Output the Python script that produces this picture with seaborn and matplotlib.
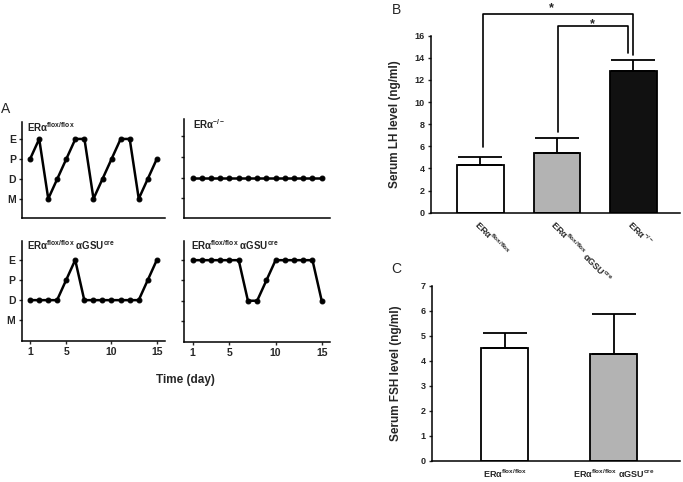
import matplotlib
matplotlib.use('Agg')
import matplotlib.pyplot as plt
import pandas as pd
import seaborn as sns

# estrous cycle stage per day (panel A)
days = [1, 2, 3, 4, 5, 6, 7, 8, 9, 10, 11, 12, 13, 14, 15]
stage_names = ['M', 'D', 'P', 'E']
cycle_flox = ['P', 'E', 'M', 'D', 'P', 'E', 'E', 'M', 'D', 'P', 'E', 'E', 'M', 'D', 'P']
cycle_ko = ['D', 'D', 'D', 'D', 'D', 'D', 'D', 'D', 'D', 'D', 'D', 'D', 'D', 'D', 'D']
cycle_cre_1 = ['D', 'D', 'D', 'D', 'P', 'E', 'D', 'D', 'D', 'D', 'D', 'D', 'D', 'P', 'E']
cycle_cre_2 = ['E', 'E', 'E', 'E', 'E', 'E', 'D', 'D', 'P', 'E', 'E', 'E', 'E', 'E', 'D']
titles_a = ['ERα$^{flox/flox}$', 'ERα$^{-/-}$',
            'ERα$^{flox/flox}$ αGSU$^{cre}$', 'ERα$^{flox/flox}$ αGSU$^{cre}$']

# serum LH (panel B)
lh_groups = ['ERα$^{flox/flox}$', 'ERα$^{flox/flox}$ αGSU$^{cre}$', 'ERα$^{-/-}$']
lh_mean = [4.3, 5.36, 12.83]
lh_err = [0.7, 1.42, 0.97]

# serum FSH (panel C)
fsh_groups = ['ERα$^{flox/flox}$', 'ERα$^{flox/flox}$ αGSU$^{cre}$']
fsh_mean = [4.53, 4.26]
fsh_err = [0.6, 1.6]

bar_colors = ['white', '#b3b3b3', '#111111']

sns.set_style('ticks')
plt.rcParams['font.family'] = ['Liberation Sans', 'DejaVu Sans']
plt.rcParams['font.weight'] = 'bold'
plt.rcParams['axes.labelweight'] = 'bold'
plt.rcParams['mathtext.fontset'] = 'custom'
plt.rcParams['mathtext.default'] = 'regular'
plt.rcParams['axes.linewidth'] = 1.1
plt.rcParams['axes.edgecolor'] = 'black'

fig = plt.figure(figsize=(6.83, 4.82), dpi=100)

# ---- panel A ----
W, H = 683, 482
boxes = [(22, 122, 165, 217.7), (184.3, 119, 330, 217.7),
         (21.7, 240.7, 165, 340.7), (184.3, 240.7, 330, 341.7)]
cycles = [cycle_flox, cycle_ko, cycle_cre_1, cycle_cre_2]
title_x = [0.035, 0.058, 0.035, 0.044]
stage_val = {'M': 1, 'D': 2, 'P': 3, 'E': 4}

for i in range(4):
    x0, y0, x1, y1 = boxes[i]
    ax = fig.add_axes([x0 / W, 1 - y1 / H, (x1 - x0) / W, (y1 - y0) / H])
    df = pd.DataFrame({'day': days, 'stage': [stage_val[s] for s in cycles[i]]})
    sns.lineplot(data=df, x='day', y='stage', color='black', linewidth=1.8,
                 marker='o', markersize=3.5, markeredgecolor='black', ax=ax)
    sns.despine(ax=ax)
    ax.set_xlim(0.1, 15.9)
    if i < 2:
        ax.set_ylim(0.05, 4.85)
        ax.set_xticks([])
    else:
        ax.set_ylim(-0.02, 4.96)
        ax.set_xticks([1, 5, 10, 15])
    ax.set_yticks([1, 2, 3, 4])
    if i % 2 == 0:
        ax.set_yticklabels(stage_names)
    else:
        ax.set_yticklabels([])
    ax.tick_params(length=2.5, width=1, labelsize=7.5, pad=2)
    ax.set_xlabel('')
    ax.set_ylabel('')
    ax.text(title_x[i], 1.02, titles_a[i], transform=ax.transAxes,
            va='top', ha='left', fontsize=7, color='#222222')

fig.text(185 / W, 1 - 380 / H, 'Time (day)', ha='center', va='center', fontsize=8.5)
fig.text(0.002, 1 - 101.7 / H, 'A', ha='left', va='top', fontsize=10, weight='normal')

# ---- panel B ----
axB = fig.add_axes([430.7 / W, 1 - 212.7 / H, 249.3 / W, 177 / H])
sns.barplot(x=lh_groups, y=lh_mean, hue=lh_groups, palette=bar_colors, legend=False,
            edgecolor='black', linewidth=1.3, width=0.61, ax=axB)
axB.errorbar(x=[0, 1, 2], y=lh_mean, yerr=[[0, 0, 0], lh_err], fmt='none',
             ecolor='black', elinewidth=1.3, capsize=16, capthick=1.3)
sns.despine(ax=axB)
axB.set_xlim(-0.65, 2.61)
axB.set_ylim(0, 16)
axB.set_yticks(range(0, 17, 2))
axB.set_yticklabels([str(v) for v in range(0, 17, 2)], weight='bold')
axB.tick_params(axis='y', length=2.5, width=1, labelsize=6.5, pad=2)
axB.tick_params(axis='x', length=0, pad=4)
axB.set_xticks([0, 1, 2])
axB.set_xticklabels(lh_groups, rotation=-45, ha='left', rotation_mode='anchor',
                    fontsize=6.5, weight='bold')
axB.set_xlabel('')
axB.set_ylabel('Serum LH level (ng/ml)', fontsize=8.5, weight='bold')
axB.yaxis.set_label_coords(-0.118, 0.5)

# significance brackets
axB.plot([0.04, 0.04, 2.0, 2.0], [5.96, 17.95, 17.95, 14.3], color='black', lw=1.2, clip_on=False)
axB.plot([1.02, 1.02, 1.93, 1.93], [7.3, 16.9, 16.9, 14.4], color='black', lw=1.2, clip_on=False)
axB.text(0.93, 18.5, '*', ha='center', va='center', fontsize=9, clip_on=False)
axB.text(1.46, 17.05, '*', ha='center', va='center', fontsize=9, clip_on=False)
fig.text(391.7 / W, 1 - 3.3 / H, 'B', ha='left', va='top', fontsize=10, weight='normal')

# ---- panel C ----
axC = fig.add_axes([431.7 / W, 1 - 461 / H, 248.3 / W, 175.3 / H])
sns.barplot(x=fsh_groups, y=fsh_mean, hue=fsh_groups, palette=bar_colors[:2], legend=False,
            edgecolor='black', linewidth=1.3, width=0.43, ax=axC)
axC.errorbar(x=[0, 1], y=fsh_mean, yerr=[[0, 0], fsh_err], fmt='none',
             ecolor='black', elinewidth=1.3, capsize=16, capthick=1.3)
sns.despine(ax=axC)
axC.set_xlim(-0.67, 1.61)
axC.set_ylim(0, 7)
axC.set_yticks(range(0, 8))
axC.set_yticklabels([str(v) for v in range(0, 8)], weight='bold')
axC.tick_params(axis='y', length=2.5, width=1, labelsize=6.5, pad=2)
axC.tick_params(axis='x', length=0, pad=5)
axC.set_xticks([0, 1])
axC.set_xticklabels(fsh_groups, fontsize=6.5, weight='bold')
axC.set_xlabel('')
axC.set_ylabel('Serum FSH level (ng/ml)', fontsize=8.5, weight='bold')
axC.yaxis.set_label_coords(-0.121, 0.5)
fig.text(391.7 / W, 1 - 261.7 / H, 'C', ha='left', va='top', fontsize=10, weight='normal')

fig.savefig('out.png', dpi=100)
